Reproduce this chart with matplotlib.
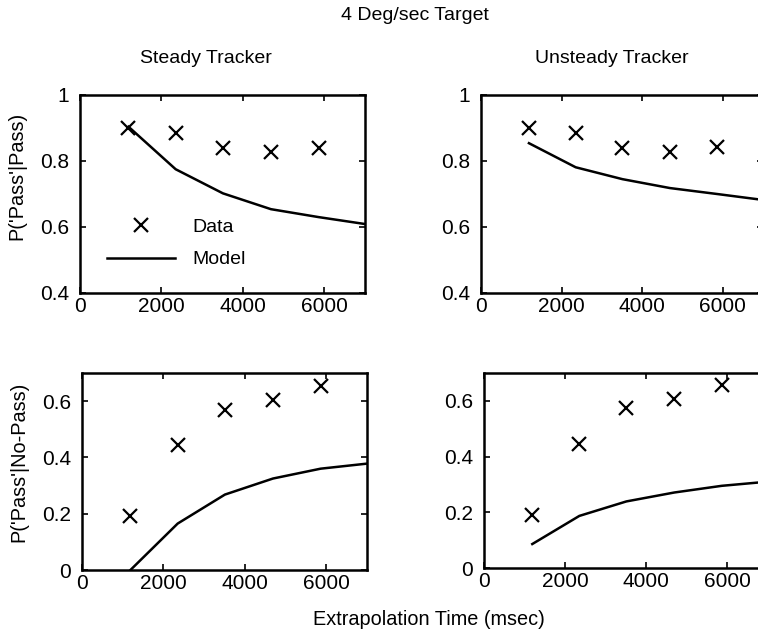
import matplotlib
matplotlib.use("Agg")
import matplotlib.pyplot as plt

plt.rcParams['font.family'] = ['Liberation Sans', 'DejaVu Sans']

# Data x positions (msec)
data_x = [1180, 2350, 3510, 4680, 5860]
model_x = [1190, 2350, 3510, 4690, 5860, 7000]

# Steady tracker
steady_pp_data = [0.899, 0.886, 0.839, 0.826, 0.840]
steady_pp_model = [0.904, 0.775, 0.702, 0.654, 0.630, 0.609]
steady_pn_data = [0.192, 0.445, 0.569, 0.605, 0.655]
steady_pn_model = [0.0, 0.165, 0.268, 0.325, 0.360, 0.378]

# Unsteady tracker
unsteady_pp_data = [0.899, 0.886, 0.839, 0.826, 0.841]
unsteady_pp_model = [0.854, 0.781, 0.745, 0.718, 0.700, 0.682]
unsteady_pn_data = [0.189, 0.445, 0.573, 0.608, 0.656]
unsteady_pn_model = [0.086, 0.187, 0.239, 0.271, 0.295, 0.310]

x_ticks = [0, 2000, 4000, 6000]
top_yticks = [0.4, 0.6, 0.8, 1.0]
top_ylabels = ['0.4', '0.6', '0.8', '1']
bot_yticks = [0, 0.2, 0.4, 0.6]
bot_ylabels = ['0', '0.2', '0.4', '0.6']

fig = plt.figure(figsize=(7.58, 6.35), dpi=100)

W, H = 758, 635
def box(x0, x1, y0, y1):
    return [x0 / W, 1 - y1 / H, (x1 - x0) / W, (y1 - y0) / H]

ax_tl = fig.add_axes(box(80, 365, 95, 293))
ax_tr = fig.add_axes(box(481, 763, 95, 293))
ax_bl = fig.add_axes(box(82, 367, 373, 570))
ax_br = fig.add_axes(box(484, 768, 373, 568))

panels = [
    (ax_tl, steady_pp_data, steady_pp_model, (0.4, 1.0), top_yticks, top_ylabels),
    (ax_tr, unsteady_pp_data, unsteady_pp_model, (0.4, 1.0), top_yticks, top_ylabels),
    (ax_bl, steady_pn_data, steady_pn_model, (0.0, 0.7), bot_yticks, bot_ylabels),
    (ax_br, unsteady_pn_data, unsteady_pn_model, (0.0, 0.7), bot_yticks, bot_ylabels),
]

for ax, d, m, ylim, yt, yl in panels:
    ax.plot(data_x, d, linestyle='none', marker='x', markersize=10,
            markeredgewidth=1.6, color='black', label='Data', clip_on=False)
    ax.plot(model_x, m, color='black', linewidth=1.8, label='Model')
    ax.set_xlim(0, 7000)
    ax.set_ylim(*ylim)
    ax.set_xticks(x_ticks)
    ax.set_xticklabels([str(v) for v in x_ticks])
    ax.set_yticks(yt)
    ax.set_yticklabels(yl)
    ax.tick_params(direction='in', length=4, width=1.2, top=True, right=True,
                   labelsize=15, colors='black')
    ax.tick_params(axis='x', pad=3)
    ax.tick_params(axis='y', pad=8)
    for s in ax.spines.values():
        s.set_linewidth(1.8)

ax_tl.legend(loc='center left', bbox_to_anchor=(0.094, 0.25), frameon=False,
             borderpad=0, borderaxespad=0, handlelength=3.5, handletextpad=0.9,
             labelspacing=0.75, fontsize=14)

fig.text(0.547, 0.975, '4 Deg/sec Target', ha='center', va='center', fontsize=14)
fig.text(0.272, 0.908, 'Steady Tracker', ha='center', va='center', fontsize=14)
fig.text(0.807, 0.908, 'Unsteady Tracker', ha='center', va='center', fontsize=14)
fig.text(0.566, 0.024, 'Extrapolation Time (msec)', ha='center', va='center', fontsize=14.3)
fig.text(0.022, 0.723, "P('Pass'|Pass)", rotation=90, ha='center', va='center', fontsize=14.3)
fig.text(0.025, 0.272, "P('Pass'|No-Pass)", rotation=90, ha='center', va='center', fontsize=14.3)

fig.savefig('out.png', dpi=100)
